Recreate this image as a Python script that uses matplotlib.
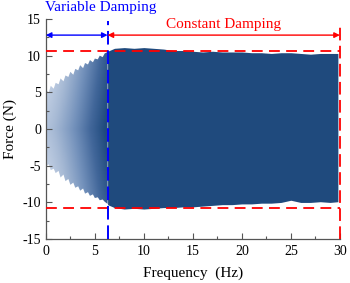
import numpy as np
import matplotlib
matplotlib.use("Agg")
import matplotlib.pyplot as plt
from matplotlib.colors import LinearSegmentedColormap

plt.rcParams['font.family'] = ['Liberation Serif', 'DejaVu Serif']
plt.rcParams['axes.unicode_minus'] = False

# ---- data ----
# variable damping region: force envelope vs frequency
f_var = [0.0, 0.3, 0.5, 0.8, 1.0, 1.3, 1.5, 1.8, 2.0, 2.3, 2.5, 2.8, 3.0, 3.3, 3.5, 3.8,
         4.0, 4.3, 4.5, 4.8, 5.0, 5.3, 5.5, 5.8, 6.0, 6.3]
up_var = [5.3, 5.0, 5.9, 5.5, 6.3, 6.1, 6.9, 6.5, 7.3, 7.1, 7.8, 7.4, 8.2, 8.0, 8.7, 8.3,
          9.0, 8.8, 9.4, 9.1, 9.6, 9.5, 10.0, 9.8, 10.3, 10.5]
lo_var = [-5.1, -4.8, -5.6, -5.4, -6.0, -5.7, -6.6, -6.2, -7.1, -6.8, -7.6, -7.3, -8.0,
          -7.8, -8.4, -8.1, -8.8, -8.6, -9.1, -8.9, -9.4, -9.3, -9.7, -9.6, -9.9, -10.2]
# constant damping region
f_con = [6.3, 7, 8, 9, 10, 11, 12, 13, 14, 15, 16, 17, 18, 19, 20, 21, 22, 23,
         24, 25, 26, 27, 28, 29, 29.8]
up_con = [10.6, 11.0, 11.1, 11.0, 11.1, 11.0, 10.9, 10.7, 10.7, 10.6, 10.5, 10.6,
          10.5, 10.5, 10.5, 10.4, 10.4, 10.3, 10.4, 10.4, 10.3, 10.2, 10.3, 10.3, 10.3]
lo_con = [-10.3, -10.7, -10.9, -10.8, -10.9, -10.8, -10.7, -10.7, -10.6, -10.6, -10.5,
          -10.4, -10.3, -10.3, -10.2, -10.2, -10.1, -10.1, -10.0, -9.7, -10.0, -10.0,
          -9.9, -10.0, -9.9]
f_switch = 6.3
limit_up = 10.7
limit_lo = -10.7
x_ticks = [0, 5, 10, 15, 20, 25, 30]
y_ticks = [-15, -10, -5, 0, 5, 10, 15]

dark = '#1f4a7d'

fig = plt.figure(figsize=(3.5, 2.83), dpi=100)
ax = fig.add_axes([0.131, 0.155, 0.84, 0.778])

# constant region fill
ax.fill_between(f_con, lo_con, up_con, color=dark, lw=0)

# variable region fill with gradient
poly = ax.fill_between(f_var, lo_var, up_var, color='none', lw=0)
cmap = LinearSegmentedColormap.from_list('g', ['#d3dded', '#a7bad5', '#7391bb', '#42679a', dark])
xx = np.linspace(0, 1, 200)
yy = np.linspace(-1, 1, 100)
X, Y = np.meshgrid(xx, yy)
Z = np.clip(X ** 1.3 * 0.85 + (1 - np.abs(Y)) * 0.2, 0, 1)
im = ax.imshow(Z, extent=[0, f_switch, -11, 11], origin='lower', aspect='auto',
               cmap=cmap, vmin=0, vmax=1, zorder=1)
im.set_clip_path(poly.get_paths()[0], transform=ax.transData)

# reference lines
ax.plot([0, 30], [limit_up, limit_up], color='red', lw=1.3, ls=(0, (6, 3.5)), zorder=3)
ax.plot([0, 30], [limit_lo, limit_lo], color='red', lw=1.3, ls=(0, (6, 3.5)), zorder=3)
ax.plot([f_switch, f_switch], [-15, 14.7], color='blue', lw=1.4, ls=(0, (7, 3)), zorder=3,
        clip_on=False)
ax.plot([30, 30], [-15, 14.4], color='red', lw=1.3, ls=(0, (7, 3)), zorder=3, clip_on=False)

# arrows
ax.annotate('', xy=(0, 12.8), xytext=(f_switch, 12.8),
            arrowprops=dict(arrowstyle='<|-|>', color='blue', lw=1.0, mutation_scale=8,
                            shrinkA=0, shrinkB=0), annotation_clip=False)
ax.annotate('', xy=(f_switch, 12.8), xytext=(30, 12.8),
            arrowprops=dict(arrowstyle='<|-|>', color='red', lw=1.0, mutation_scale=8,
                            shrinkA=0, shrinkB=0), annotation_clip=False)
fig.text(0.287, 0.975, 'Variable Damping', color='blue', fontsize=11, ha='center', va='center')
ax.text(18.1, 14.3, 'Constant Damping', color='red', fontsize=11, ha='center', va='center',
        clip_on=False)

ax.set_xlim(0, 30)
ax.set_ylim(-15, 15)
ax.set_xticks(x_ticks)
ax.set_yticks(y_ticks)
ax.set_xticks(np.arange(2.5, 30, 5), minor=True)
ax.set_yticks(np.arange(-12.5, 15, 5), minor=True)
ax.tick_params(direction='in', which='major', length=4, width=0.8, labelsize=10, color='#555555')
ax.tick_params(direction='in', which='minor', length=2, width=0.8, color='#555555')
ax.tick_params(axis='x', pad=4)
for s in ['top', 'right']:
    ax.spines[s].set_visible(False)
for s in ['left', 'bottom']:
    ax.spines[s].set_color('#555555')
    ax.spines[s].set_linewidth(0.9)
ax.set_xlabel('Frequency  (Hz)', fontsize=11, labelpad=6)
ax.set_ylabel('Force (N)', fontsize=11, labelpad=4)

fig.savefig('out.png', dpi=100)
